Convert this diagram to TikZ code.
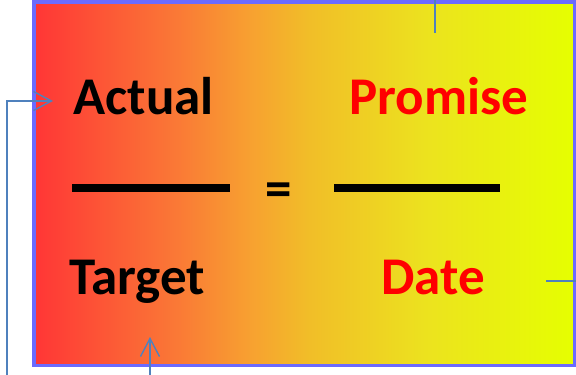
\documentclass[tikz,border=0pt]{standalone}
\usepackage{fontspec}
\setmainfont{Carlito}
\usetikzlibrary{arrows.meta}
\definecolor{rahmen}{HTML}{6B6BFF}
\definecolor{pfeil}{HTML}{4F81BD}
\definecolor{rot}{HTML}{FF0000}
\pgfdeclarehorizontalshading{verlauf}{100bp}{rgb(0bp)=(1,0.21,0.21); rgb(25bp)=(1,0.21,0.21);
  rgb(38.5bp)=(0.98,0.48,0.21); rgb(45bp)=(0.97,0.63,0.19); rgb(50.5bp)=(0.945,0.745,0.157);
  rgb(61.5bp)=(0.925,0.89,0.118); rgb(75bp)=(0.9,1,0); rgb(100bp)=(0.9,1,0)}
\tikzset{
  wort/.style={font=\fontsize{53}{64}\selectfont\bfseries,inner sep=0pt,anchor=base},
  bruch/.style={line width=7.5pt},
  verb/.style={pfeil,line width=1.4pt},
  pf/.style={verb,-{Straight Barb[length=18pt,width=19pt]}},
  kasten/.style={draw=rahmen,line width=3.3pt,shading=verlauf},
}
\begin{document}
\begin{tikzpicture}[x=1pt,y=-1pt]
  \useasboundingbox (0,0) rectangle (576,375);
  \path[kasten] (34,2) rectangle (574.5,365.5);
  % Woerter
  \node[wort] (actual) at (143.5,114) {Actual};
  \node[wort,rot] (promise) at (439,114) {Promise};
  \node[wort] (target) at (137,294) {Target};
  \node[wort,rot] (date) at (433,294) {Date};
  \node[wort] (eq) at (278.5,206) {=};
  % Bruchstriche
  \draw[bruch] (72,188) -- (230,188);
  \draw[bruch] (334,188) -- (500,188);
  % Verbinder
  \coordinate (obenA) at (435,0);
  \coordinate (obenB) at (435,33);
  \coordinate (rechtsA) at (576,281);
  \coordinate (rechtsB) at (546,281);
  \coordinate (untenA) at (150,375);
  \coordinate (untenB) at (150,337);
  \coordinate (linksA) at (7,375);
  \coordinate (linksB) at (53,101);
  \draw[verb] (obenA) -- (obenB);
  \draw[verb] (rechtsA) -- (rechtsB);
  \draw[pf] (untenA) -- (untenB);
  \draw[pf] (linksA) |- (linksB);
\end{tikzpicture}
\end{document}
